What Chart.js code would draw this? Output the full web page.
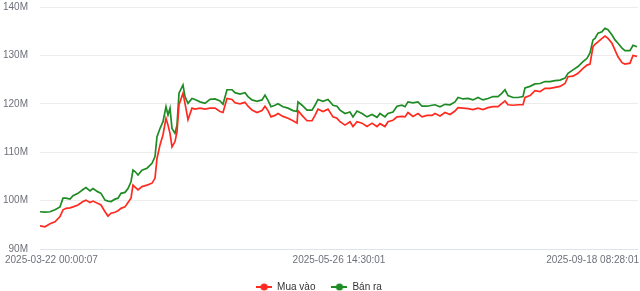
<!DOCTYPE html>
<html>
<head>
<meta charset="utf-8">
<script src="https://cdn.jsdelivr.net/npm/chart.js@4/dist/chart.umd.min.js"></script>
<style>
  html, body { margin: 0; padding: 0; background: #fff; }
  #wrap { width: 640px; height: 291px; position: relative; }
</style>
</head>
<body>
<div id="wrap"><canvas id="chart"></canvas></div>
<script>
// position of each reading inside the full price series (sample number)
var sampleIndex = [
  0, 5, 10, 15, 20, 23, 26, 30, 33, 38, 43, 46, 50, 53, 58, 61, 65, 68, 71, 75, 78, 81, 85, 88, 91, 93,
  95, 98, 102, 107, 112, 115, 117, 120, 123, 126, 128, 130, 132, 135, 137, 139, 143, 145, 148, 152, 155, 160, 165, 170, 175, 180, 183, 187, 192,
  195, 200, 205, 208, 212, 217, 222, 225, 228, 231, 235, 238, 243, 248, 253, 257, 258, 262, 267, 272, 275, 278, 283, 288, 293,
  297, 300, 305, 310, 313, 317, 322, 327, 332, 337, 340, 345, 348, 353, 357, 362, 365, 368, 373, 378, 382, 387, 392,
  395, 400, 405, 410, 415, 418, 423, 428, 433, 438, 443, 448, 453, 458, 462, 465, 468, 473, 478, 483, 485, 490,
  495, 500, 505, 510, 515, 520, 525, 528, 533, 538,
  543, 547, 550, 553, 555, 558, 562, 565, 568, 572, 575, 578, 582, 585, 590, 593, 597
];

// "Mua vào" (buy) price, millions
var buyPrices = [
  94.8, 94.6, 95.2, 95.6, 96.7, 98.1, 98.4, 98.5, 98.7, 99.1, 99.8, 100.1, 99.6, 99.9, 99.4, 99.1, 97.7, 96.8, 97.4, 97.6, 97.9, 98.4, 98.7, 99.6, 100.5, 103.2,
  102.8, 102.2, 102.9, 103.2, 103.6, 104.6, 108.7, 111.5, 113.6, 117.0, 115.6, 113.9, 111.1, 112.2, 114.2, 119.8, 122.2, 120.1, 116.7, 119.1, 118.9, 119.1, 118.9, 119.1, 119.1, 118.4, 118.2, 121.1, 120.9,
  120.2, 120.0, 120.3, 119.5, 118.7, 118.2, 118.6, 119.5, 118.6, 117.3, 117.6, 118.0, 117.4, 117.0, 116.5, 116.0, 118.6, 117.6, 116.5, 116.5, 117.6, 118.9, 118.4, 118.9, 117.3,
  117.0, 116.3, 115.6, 116.3, 115.3, 116.3, 116.0, 115.3, 116.0, 115.3, 115.9, 115.3, 116.3, 116.6, 117.3, 117.4, 117.3, 118.2, 117.4, 118.0, 117.3, 117.6, 117.6,
  118.0, 117.5, 118.2, 117.8, 118.5, 119.2, 119.1, 119.0, 118.8, 119.1, 118.8, 119.2, 119.4, 119.4, 120.1, 120.6, 119.8, 119.7, 119.8, 119.8, 121.3, 121.7,
  122.7, 122.5, 123.2, 123.2, 123.4, 123.6, 124.2, 125.6, 125.7, 126.3,
  127.3, 128.0, 128.2, 131.8, 132.3, 132.8, 133.5, 134.0, 133.5, 132.5, 131.1, 129.7, 128.5, 128.2, 128.4, 130.0, 129.8
];

// "Bán ra" (sell) price, millions
var sellPrices = [
  97.7, 97.6, 97.7, 98.1, 98.7, 100.5, 100.5, 100.3, 101.0, 101.5, 102.3, 102.7, 102.0, 102.5, 101.8, 101.5, 100.1, 99.9, 99.8, 100.3, 100.5, 101.5, 101.7, 102.5, 103.9, 106.3,
  106.0, 105.3, 106.3, 106.7, 107.7, 109.1, 113.2, 114.9, 116.3, 119.4, 117.7, 119.1, 114.9, 113.9, 115.6, 122.2, 123.9, 121.5, 120.1, 121.1, 120.9, 120.4, 120.1, 120.9, 121.0, 120.6, 119.9, 122.9, 122.9,
  122.3, 122.0, 122.3, 121.5, 120.8, 120.5, 120.8, 121.8, 120.7, 119.4, 119.7, 120.0, 119.4, 119.1, 118.6, 118.4, 120.4, 119.7, 118.7, 118.7, 119.7, 120.9, 120.5, 120.9, 119.7,
  119.5, 118.7, 118.0, 118.3, 117.3, 118.5, 118.0, 117.3, 117.8, 117.2, 118.0, 117.3, 118.0, 118.3, 119.5, 119.7, 119.4, 120.4, 120.2, 120.4, 119.5, 119.5, 119.7,
  119.8, 119.4, 119.9, 119.8, 120.4, 121.3, 121.0, 121.1, 120.8, 121.3, 120.8, 121.1, 121.5, 121.5, 122.2, 122.9, 121.7, 121.3, 121.3, 121.5, 123.3, 123.6,
  124.1, 124.2, 124.6, 124.6, 124.8, 124.9, 125.3, 126.3, 127.0, 127.7,
  128.7, 129.4, 130.5, 133.2, 133.5, 134.6, 134.9, 135.6, 135.3, 134.2, 133.2, 132.5, 131.5, 131.0, 131.0, 132.1, 131.8
];

var seriesNames = ["Mua vào", "Bán ra"];
var seriesColors = ["#ff2a1f", "#1f8b24"];

// x axis labels and the sample they belong to
var xTickIndex = [0, 299, 598];
var xTickLabels = ["2025-03-22 00:00:07", "2025-05-26 14:30:01", "2025-09-18 08:28:01"];

var FONT = "'Liberation Sans', Arial, sans-serif";
var LABEL_COLOR = "#6e7079";

// legend symbol: short line with a dot on it
function makeIcon(color) {
  var c = document.createElement("canvas");
  c.width = 16;
  c.height = 10;
  var g = c.getContext("2d");
  g.strokeStyle = color;
  g.lineWidth = 2;
  g.beginPath();
  g.moveTo(0, 5);
  g.lineTo(16, 5);
  g.stroke();
  g.fillStyle = color;
  g.beginPath();
  g.arc(8, 5, 3.6, 0, Math.PI * 2);
  g.fill();
  return c;
}

function toPoints(values) {
  return values.map(function(v, i) {
    return { x: sampleIndex[i], y: v };
  });
}

// draws the 3 time labels, kept inside the canvas like the original
var xLabelPlugin = {
  id: "xLabels",
  afterDraw: function(chart) {
    var ctx = chart.ctx;
    var xs = chart.scales.x;
    var y = chart.chartArea.bottom + 11;
    ctx.save();
    ctx.font = "10px " + FONT;
    ctx.fillStyle = LABEL_COLOR;
    ctx.textBaseline = "middle";
    ctx.textAlign = "left";
    xTickIndex.forEach(function(idx, i) {
      var text = xTickLabels[i];
      var w = ctx.measureText(text).width;
      var left = xs.getPixelForValue(idx) - w / 2;
      left = Math.max(5, Math.min(left, chart.width - 1 - w));
      ctx.fillText(text, left, y);
    });
    ctx.restore();
  }
};

var datasets = [buyPrices, sellPrices].map(function(values, i) {
  return {
    label: seriesNames[i],
    data: toPoints(values),
    borderColor: seriesColors[i],
    backgroundColor: seriesColors[i],
    borderWidth: 1.7,
    pointRadius: 0,
    pointStyle: makeIcon(seriesColors[i]),
    tension: 0,
    fill: false
  };
});

new Chart(document.getElementById("chart"), {
  type: "line",
  data: { datasets: datasets },
  plugins: [xLabelPlugin],
  options: {
    responsive: true,
    maintainAspectRatio: false,
    animation: false,
    events: [],
    layout: { padding: { top: 7, right: 2, bottom: -11, left: 0 } },
    plugins: {
      tooltip: { enabled: false },
      legend: {
        position: "bottom",
        labels: {
          usePointStyle: true,
          pointStyleWidth: 16,
          padding: 16,
          color: "#333",
          font: { family: FONT, size: 10 }
        }
      }
    },
    scales: {
      x: {
        type: "linear",
        min: 0,
        max: 598,
        ticks: { display: false },
        grid: { display: false },
        border: { display: false },
        afterFit: function(scale) { scale.height = 17; }
      },
      y: {
        min: 90,
        max: 140,
        ticks: {
          stepSize: 10,
          padding: 0,
          color: LABEL_COLOR,
          font: { family: FONT, size: 10 },
          callback: function(v) { return v + "M"; }
        },
        grid: {
          // invisible tick marks leave the gap between labels and plot
          tickLength: 12,
          tickColor: "rgba(0,0,0,0)",
          color: function(ctx) { return ctx.tick && ctx.tick.value === 90 ? "#dde2eb" : "#ececec"; }
        },
        border: { display: false },
        afterFit: function(scale) { scale.width = 40; }
      }
    }
  }
});
</script>
</body>
</html>
